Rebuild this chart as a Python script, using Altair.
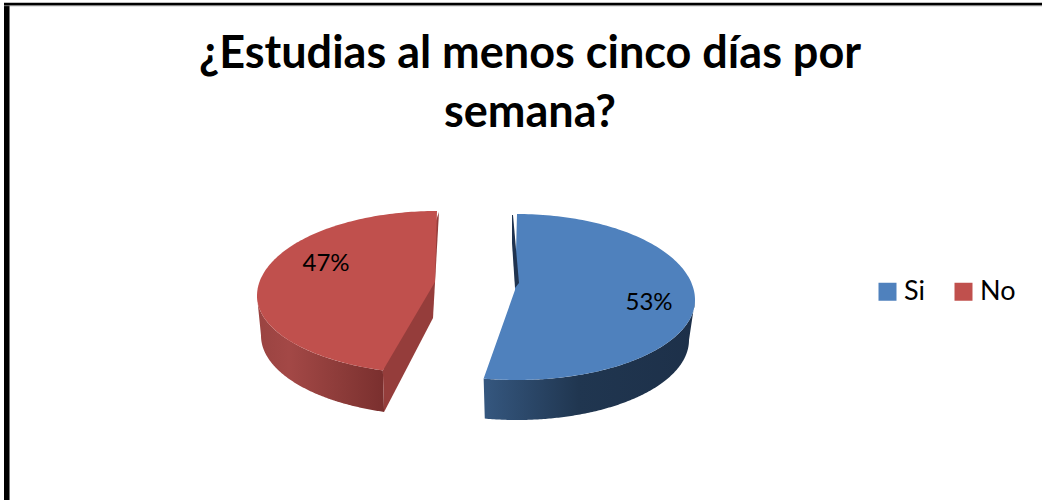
import numpy as np
import pandas as pd
import altair as alt

# Survey shares
categories = ["Si", "No"]
shares = [53, 47]
title_lines = ["¿Estudias al menos cinco días por", "semana?"]
face_colors = ["#4f81bd", "#c0504d"]

FONT = "Lato"
W, H = 1042, 500

x_scale = alt.Scale(domain=[0, W], nice=False, zero=False)
y_scale = alt.Scale(domain=[H, 0], nice=False, zero=False)

# Oblique view of each exploded slice: (cx, cy, rx, ry far side, ry near side)
# for the top rim and for the base
VIEW = {
    "Si": dict(top=(517, 300, 178, 86, 80), base=(517, 340, 172, 80, 80), tilt=0.0,
               apex=(515, 290), wall_from=90.0),
    "No": dict(top=(437, 296, 180, 85, 78), base=(437, 335.6, 176, 80, 80), tilt=6.7,
               apex=(435, 282), wall_from=270.0),
}


def rim(ellipse, start_deg, end_deg, n=160):
    cx, cy, rx, ry_far, ry_near = ellipse
    t = np.radians(np.linspace(start_deg, end_deg, n))
    c = np.cos(t)
    return cx + rx * np.sin(t), cy - np.where(c > 0, ry_far, ry_near) * c


def polygon(xs, ys, name):
    return pd.DataFrame({"px": xs, "py": ys, "i": np.arange(len(xs)), "category": name})


def shape(df, fill):
    return alt.Chart(df).mark_line(fill=fill, stroke=None, strokeWidth=0).encode(
        x=alt.X("px:Q", scale=x_scale, axis=None),
        y=alt.Y("py:Q", scale=y_scale, axis=None),
        order="i:Q",
    )


def shade(stops):
    return alt.Gradient(
        gradient="linear", x1=0, x2=1, y1=0, y2=0,
        stops=[alt.GradientStop(offset=o, color=c) for o, c in stops],
    )


# Slice angles follow the shares, clockwise from twelve o'clock
fractions = np.array(shares) / sum(shares) * 360
si_end = fractions[0]
si, no = VIEW["Si"], VIEW["No"]
no_start = si_end + no["tilt"]

layers = []

# Outer walls
bx, by = rim(si["base"], si["wall_from"], si_end)
tx, ty = rim(si["top"], si["wall_from"], si_end)
layers.append(shape(
    polygon(np.r_[bx, tx[::-1]], np.r_[by, ty[::-1]], "Si"),
    shade([(0, "#35577f"), (0.45, "#203650"), (1, "#1d3049")]),
))
bx, by = rim(no["base"], no_start, no["wall_from"])
tx, ty = rim(no["top"], no_start, no["wall_from"])
layers.append(shape(
    polygon(np.r_[bx, tx[::-1]], np.r_[by, ty[::-1]], "No"),
    shade([(0, "#9a4341"), (0.25, "#a34846"), (0.7, "#8a3a38"), (1, "#7a2f2e")]),
))

# Cut faces
rx0, ry0 = rim(no["top"], no_start, no_start, 1)
bx0, by0 = rim(no["base"], no_start, no_start, 1)
layers.append(shape(
    polygon(
        np.r_[no["top"][0] + 2, no["apex"][0] - 2, bx0, rx0],
        np.r_[212, no["apex"][1] + 36, by0, ry0],
        "No",
    ),
    "#953d3b",
))

# Top faces, which also carry the legend
si_x, si_y = rim(si["top"], 0, si_end)
no_x, no_y = rim(no["top"], no_start, 360)
tops = pd.concat([
    polygon(np.r_[si_x, si["apex"][0]], np.r_[si_y, si["apex"][1]], "Si"),
    polygon(np.r_[no_x, no["apex"][0]], np.r_[no_y, no["apex"][1]], "No"),
])
layers.append(
    alt.Chart(tops).mark_line(strokeWidth=0).encode(
        x=alt.X("px:Q", scale=x_scale, axis=None),
        y=alt.Y("py:Q", scale=y_scale, axis=None),
        order="i:Q",
        fill=alt.Fill(
            "category:N",
            scale=alt.Scale(domain=categories, range=face_colors),
            legend=alt.Legend(
                title=None, orient="none", direction="horizontal",
                legendX=874, legendY=278, symbolType="square", symbolSize=324,
                symbolStrokeWidth=0, labelFont=FONT, labelFontSize=27, labelColor="#000000",
                labelOffset=3, columnPadding=24, labelLimit=100,
            ),
        ),
    )
)

# Narrow dark edge at the top of the blue slice
layers.append(shape(
    polygon(np.r_[512, 512, 515, 519, 513], np.r_[215, 243, 288, 283, 215], "Si"),
    "#1f3350",
))

# Percentage labels
labels = pd.DataFrame({"category": categories, "share": shares})
labels["text"] = labels["share"].astype(str) + "%"
for name, lx, ly in (("Si", 649, 303), ("No", 326, 264)):
    layers.append(
        alt.Chart(labels[labels["category"] == name]).mark_text(
            font=FONT, fontSize=24, color="#000000", align="center", baseline="middle",
        ).encode(x=alt.value(lx), y=alt.value(ly), text="text:N")
    )

# Frame along the top and left edges
for x_pos, width, color in ((6.5, 5, "#000000"), (9.5, 1, "#777777")):
    layers.append(
        alt.Chart(labels.head(1)).mark_rule(color=color, strokeWidth=width).encode(
            x=alt.value(x_pos), y=alt.value(3), y2=alt.value(H),
        )
    )
for y_pos, width, color in ((4, 2.5, "#000000"), (5.7, 1, "#777777")):
    layers.append(
        alt.Chart(labels.head(1)).mark_rule(color=color, strokeWidth=width).encode(
            y=alt.value(y_pos), x=alt.value(4), x2=alt.value(W),
        )
    )

chart = (
    alt.layer(*layers)
    .properties(
        width=W,
        height=H,
        padding=0,
        autosize=alt.AutoSizeParams(type="none"),
        title=alt.TitleParams(
            text=title_lines, font=FONT, fontSize=45, fontWeight="bold", color="#000000",
            anchor="middle", dx=9, dy=176, lineHeight=59, baseline="alphabetic",
        ),
        background="#ffffff",
    )
    .configure_view(stroke=None)
)

chart.save("out.html", embed_options={"renderer": "svg", "actions": False})
